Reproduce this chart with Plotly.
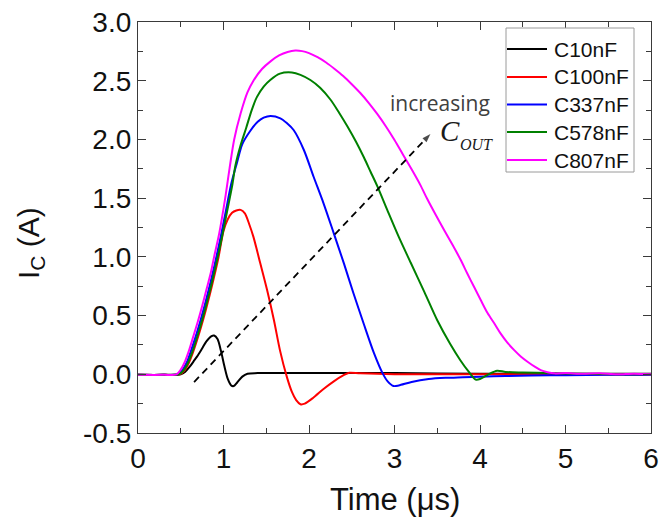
import plotly.graph_objects as go

# Collector current transients for several output capacitances
series_names = ["C10nF", "C100nF", "C337nF", "C578nF", "C807nF"]
series_colors = ["#000000", "#ff0000", "#0000ff", "#008000", "#ff00ff"]

t_c10 = [0.0, 0.30, 0.50, 0.55, 0.60, 0.65, 0.69, 0.75, 0.80, 0.86, 0.89, 0.93, 0.97,
         1.01, 1.05, 1.09, 1.12, 1.16, 1.22, 1.28, 1.40, 2.0, 3.0, 4.0, 5.0, 6.0]
i_c10 = [-0.005, -0.005, 0.0, 0.02, 0.06, 0.11, 0.15, 0.22, 0.28, 0.325, 0.33, 0.30, 0.20,
         0.07, -0.04, -0.095, -0.10, -0.07, -0.02, 0.005, 0.01, 0.01, 0.01, 0.005, 0.005, 0.005]

t_c100 = [0.0, 0.30, 0.49, 0.54, 0.59, 0.64, 0.69, 0.74, 0.79, 0.84, 0.89, 0.94, 1.0,
          1.05, 1.10, 1.15, 1.20, 1.25, 1.30, 1.35, 1.43, 1.51, 1.59, 1.66, 1.74, 1.80,
          1.85, 1.90, 1.95, 2.05, 2.17, 2.29, 2.40, 2.47, 2.60, 3.0, 4.0, 5.0, 6.0]
i_c100 = [-0.005, -0.005, 0.0, 0.03, 0.09, 0.18, 0.29, 0.41, 0.54, 0.68, 0.83, 0.99, 1.22,
          1.32, 1.375, 1.395, 1.40, 1.37, 1.28, 1.17, 0.945, 0.717, 0.46, 0.206, -0.02, -0.15,
          -0.22, -0.255, -0.25, -0.20, -0.125, -0.06, -0.01, 0.013, 0.008, 0.0, 0.0, 0.0, -0.005]

t_c337 = [0.0, 0.30, 0.47, 0.52, 0.57, 0.62, 0.67, 0.72, 0.77, 0.82, 0.87, 0.92, 0.97,
          1.03, 1.09, 1.157, 1.22, 1.31, 1.40, 1.47, 1.55, 1.665, 1.74, 1.82, 1.94, 2.055,
          2.17, 2.29, 2.41, 2.52, 2.64, 2.76, 2.86, 2.92, 2.99, 3.05, 3.2, 3.4, 3.6, 3.8,
          4.0, 4.3, 4.6, 5.0, 5.5, 6.0]
i_c337 = [-0.005, -0.005, 0.0, 0.035, 0.10, 0.20, 0.31, 0.43, 0.56, 0.70, 0.85, 1.01, 1.18,
          1.40, 1.62, 1.80, 1.96, 2.07, 2.15, 2.185, 2.20, 2.18, 2.14, 2.08, 1.91, 1.68,
          1.456, 1.20, 0.94, 0.69, 0.43, 0.18, 0.01, -0.06, -0.10, -0.095, -0.065, -0.04, -0.03,
          -0.025, -0.02, -0.015, -0.01, -0.008, -0.005, -0.005]

t_c578 = [0.0, 0.30, 0.48, 0.53, 0.58, 0.63, 0.68, 0.73, 0.78, 0.83, 0.88, 0.93, 0.98,
          1.04, 1.10, 1.14, 1.20, 1.266, 1.33, 1.39, 1.47, 1.547, 1.66, 1.80, 1.90, 2.016,
          2.13, 2.25, 2.35, 2.45, 2.55, 2.64, 2.72, 2.80, 2.915, 3.05, 3.19, 3.35, 3.50, 3.65,
          3.77, 3.87, 3.95, 4.0, 4.1, 4.2, 4.3, 4.5, 4.8, 5.2, 5.6, 6.0]
i_c578 = [-0.005, -0.005, 0.0, 0.03, 0.09, 0.18, 0.29, 0.41, 0.54, 0.68, 0.83, 0.99, 1.16,
          1.38, 1.60, 1.78, 1.95, 2.10, 2.25, 2.36, 2.45, 2.506, 2.56, 2.57, 2.55, 2.506,
          2.44, 2.34, 2.23, 2.11, 1.98, 1.85, 1.725, 1.60, 1.40, 1.17, 0.95, 0.70, 0.46, 0.26,
          0.12, 0.02, -0.045, -0.04, 0.0, 0.03, 0.02, 0.015, 0.01, 0.005, 0.0, 0.0]

t_c807 = [0.0, 0.30, 0.45, 0.50, 0.55, 0.60, 0.65, 0.70, 0.75, 0.80, 0.85, 0.89, 0.95,
          1.02, 1.07, 1.125, 1.20, 1.28, 1.35, 1.45, 1.55, 1.65, 1.75, 1.84, 1.92, 2.0,
          2.1, 2.2, 2.3, 2.4, 2.5, 2.6, 2.7, 2.8, 2.9, 3.0, 3.1, 3.2, 3.3, 3.385, 3.48,
          3.58, 3.68, 3.775, 3.85, 3.93, 4.01, 4.09, 4.17, 4.24, 4.32, 4.40, 4.48, 4.56,
          4.64, 4.71, 4.79, 4.87, 5.0, 5.2, 5.4, 5.6, 5.8, 6.0]
i_c807 = [-0.005, -0.005, 0.0, 0.04, 0.11, 0.21, 0.33, 0.45, 0.58, 0.72, 0.86, 1.0, 1.2,
          1.5, 1.75, 2.0, 2.22, 2.40, 2.50, 2.60, 2.665, 2.715, 2.745, 2.757, 2.752, 2.735,
          2.70, 2.655, 2.60, 2.54, 2.47, 2.395, 2.31, 2.215, 2.11, 1.995, 1.87, 1.745, 1.615,
          1.49, 1.36, 1.228, 1.10, 0.973, 0.86, 0.745, 0.63, 0.519, 0.43, 0.348, 0.27, 0.206,
          0.15, 0.105, 0.065, 0.036, 0.018, 0.008, 0.01, 0.005, 0.008, 0.0, 0.005, 0.0]

times = [t_c10, t_c100, t_c337, t_c578, t_c807]
currents = [i_c10, i_c100, i_c337, i_c578, i_c807]

x_ticks = [0, 1, 2, 3, 4, 5, 6]
y_ticks = [-0.5, 0.0, 0.5, 1.0, 1.5, 2.0, 2.5, 3.0]
y_tick_text = ["-0.5", "0.0", "0.5", "1.0", "1.5", "2.0", "2.5", "3.0"]

# Trend arrow (dashed) in data coordinates
arrow_x = [0.656, 3.42]
arrow_y = [-0.066, 2.046]

FONT = "Liberation Sans, Arial, sans-serif"
SERIF = "Liberation Serif, Times New Roman, serif"
AXIS_COLOR = "#3a3a3a"

# Frame geometry (pixels)
W, H = 660, 529
L, R, T, B = 138, 9, 22, 96
pw, ph = W - L - R, H - T - B


def px_to_paper(px, py):
    return (px - L) / pw, (H - B - py) / ph


fig = go.Figure()
for name, color, t, i in zip(series_names, series_colors, times, currents):
    fig.add_trace(go.Scatter(x=t, y=i, mode="lines", name=name,
                             line=dict(color=color, width=2, shape="spline", smoothing=0.8)))

# Dashed trend line ending in an arrowhead
fig.add_trace(go.Scatter(x=arrow_x, y=arrow_y, mode="lines+markers", showlegend=False,
                         hoverinfo="skip",
                         line=dict(color="#000000", width=1.8, dash="7px,5px"),
                         marker=dict(symbol="arrow", size=[0, 9], angleref="previous",
                                     color="#000000", line=dict(width=0))))

axis_common = dict(
    showline=True, linecolor=AXIS_COLOR, linewidth=1.3, mirror="ticks",
    ticks="inside", ticklen=8, tickwidth=1.3, tickcolor=AXIS_COLOR,
    showgrid=False, zeroline=False, automargin=False,
    tickfont=dict(family=FONT, size=28, color="#111111"),
)

fig.update_xaxes(range=[0, 6], tickvals=x_ticks,
                 minor=dict(dtick=0.5, ticks="inside", ticklen=5, tickwidth=1.3,
                            tickcolor=AXIS_COLOR, showgrid=False),
                 **axis_common)
fig.update_yaxes(range=[-0.5, 3.0], tickvals=y_ticks, ticktext=y_tick_text,
                 minor=dict(dtick=0.25, ticks="inside", ticklen=5, tickwidth=1.3,
                            tickcolor=AXIS_COLOR, showgrid=False),
                 **axis_common)

# Legend box drawn in pixel positions of the frame
legend_box = (506, 28, 634, 172)
legend_rows = [49, 77, 104.5, 132, 160]
bx0, by0 = px_to_paper(legend_box[0], legend_box[3])
bx1, by1 = px_to_paper(legend_box[2], legend_box[1])
fig.add_shape(type="rect", xref="paper", yref="paper", x0=bx0, y0=by0, x1=bx1, y1=by1,
              line=dict(color="#9a9a9a", width=1), fillcolor="white", layer="above")
for name, color, ry in zip(series_names, series_colors, legend_rows):
    lx0, ly = px_to_paper(507, ry)
    lx1, _ = px_to_paper(547, ry)
    fig.add_shape(type="line", xref="paper", yref="paper", x0=lx0, y0=ly, x1=lx1, y1=ly,
                  line=dict(color=color, width=2), layer="above")
    tx, ty = px_to_paper(552, ry)
    fig.add_annotation(x=tx, y=ty, xref="paper", yref="paper", text=name, showarrow=False,
                       xanchor="left", yanchor="middle",
                       font=dict(family=FONT, size=21, color="#111111"))

# Free-standing labels
labels = [
    ("increasing", 440, 103, dict(family="Open Sans, sans-serif", size=21, color="#404040"), 0),
    ("<i>C</i>", 450, 131, dict(family=SERIF, size=29, color="#1a1a1a"), 0),
    ("<i>OUT</i>", 476, 144, dict(family=SERIF, size=16, color="#1a1a1a"), 0),
    ("Time (\u03bcs)", 395, 500, dict(family=FONT, size=31, color="#111111"), 0),
    ("I<sub>C</sub> (A)", 30, 243, dict(family=FONT, size=30, color="#111111"), -90),
]
for text, px, py, font, angle in labels:
    xp, yp = px_to_paper(px, py)
    fig.add_annotation(x=xp, y=yp, xref="paper", yref="paper", text=text, showarrow=False,
                       xanchor="center", yanchor="middle", textangle=angle, font=font)

fig.update_layout(
    width=W, height=H,
    margin=dict(l=L, r=R, t=T, b=B, autoexpand=False),
    paper_bgcolor="white", plot_bgcolor="white",
    showlegend=False,
)

fig.write_html("out.html")
